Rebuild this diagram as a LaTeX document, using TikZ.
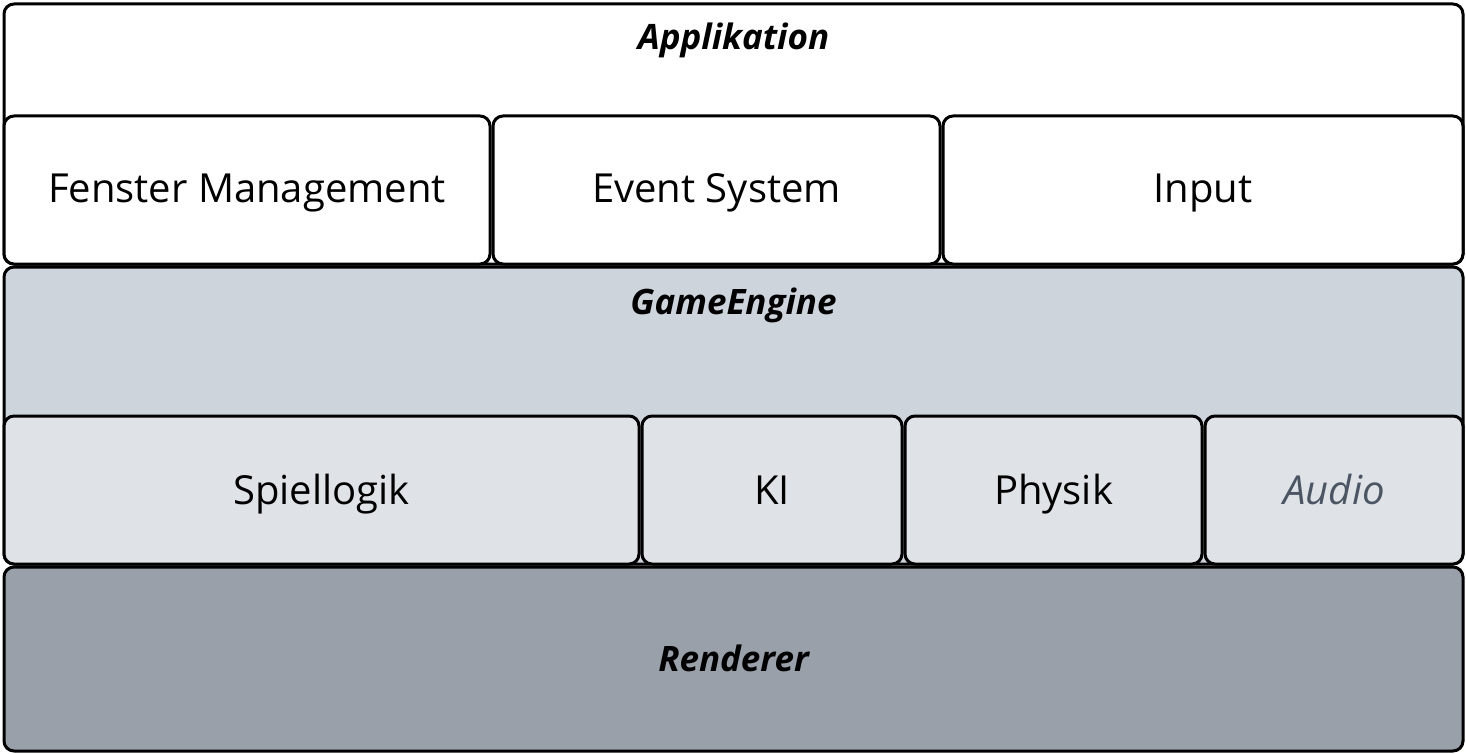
\documentclass[tikz,border=0pt]{standalone}
\usepackage{fontspec}
\setmainfont{Open Sans}
\definecolor{engine}{HTML}{CDD4DC}
\definecolor{sub}{HTML}{DFE3E8}
\definecolor{rend}{HTML}{9AA0A9}
\definecolor{audiotxt}{HTML}{4B5563}
\begin{document}
\begin{tikzpicture}[x=1pt,y=-1pt,
  box/.style={draw=black,line width=3pt,rounded corners=10pt,inner sep=0pt},
  lbl/.style={font=\fontsize{40}{44}\selectfont,inner sep=0pt,anchor=base},
  ttl/.style={font=\fontsize{35}{40}\selectfont\bfseries\itshape,inner sep=0pt,anchor=base}]
\useasboundingbox (0,0) rectangle (1466,754);
% Applikation layer
\node[box,fill=white,minimum width=1459pt,minimum height=260pt] (app) at (733.5,134) {};
\node[ttl] (apptitle) at (733.5,50) {Applikation};
\node[box,fill=white,minimum width=486pt,minimum height=148pt] (fenster) at (247,190) {};
\node[lbl] (fensterlbl) at ([yshift=-13pt]fenster.center) {Fenster Management};
\node[box,fill=white,minimum width=447pt,minimum height=148pt] (event) at (716.5,190) {};
\node[lbl] (eventlbl) at ([yshift=-13pt]event.center) {Event System};
\node[box,fill=white,minimum width=520pt,minimum height=148pt] (input) at (1203,190) {};
\node[lbl] (inputlbl) at ([yshift=-13pt]input.center) {Input};
% GameEngine layer
\node[box,fill=engine,minimum width=1459pt,minimum height=297pt] (engine) at (733.5,415.5) {};
\node[ttl] (enginetitle) at (733.5,314) {GameEngine};
\node[box,fill=sub,minimum width=635pt,minimum height=148pt] (logik) at (321.5,490) {};
\node[lbl] (logiklbl) at ([yshift=-14pt]logik.center) {Spiellogik};
\node[box,fill=sub,minimum width=260pt,minimum height=148pt] (ki) at (772,490) {};
\node[lbl] (kilbl) at ([yshift=-14pt]ki.center) {KI};
\node[box,fill=sub,minimum width=297pt,minimum height=148pt] (physik) at (1053.5,490) {};
\node[lbl] (physiklbl) at ([yshift=-14pt]physik.center) {Physik};
\node[box,fill=sub,minimum width=258pt,minimum height=148pt] (audio) at (1334,490) {};
\node[lbl,text=audiotxt,font=\fontsize{40}{44}\selectfont\itshape] (audiolbl) at ([yshift=-14pt]audio.center) {Audio};
% Renderer layer
\node[box,fill=rend,minimum width=1459pt,minimum height=184pt] (rend) at (733.5,659) {};
\node[ttl] (rendtitle) at ([yshift=-12pt]rend.center) {Renderer};
\end{tikzpicture}
\end{document}
